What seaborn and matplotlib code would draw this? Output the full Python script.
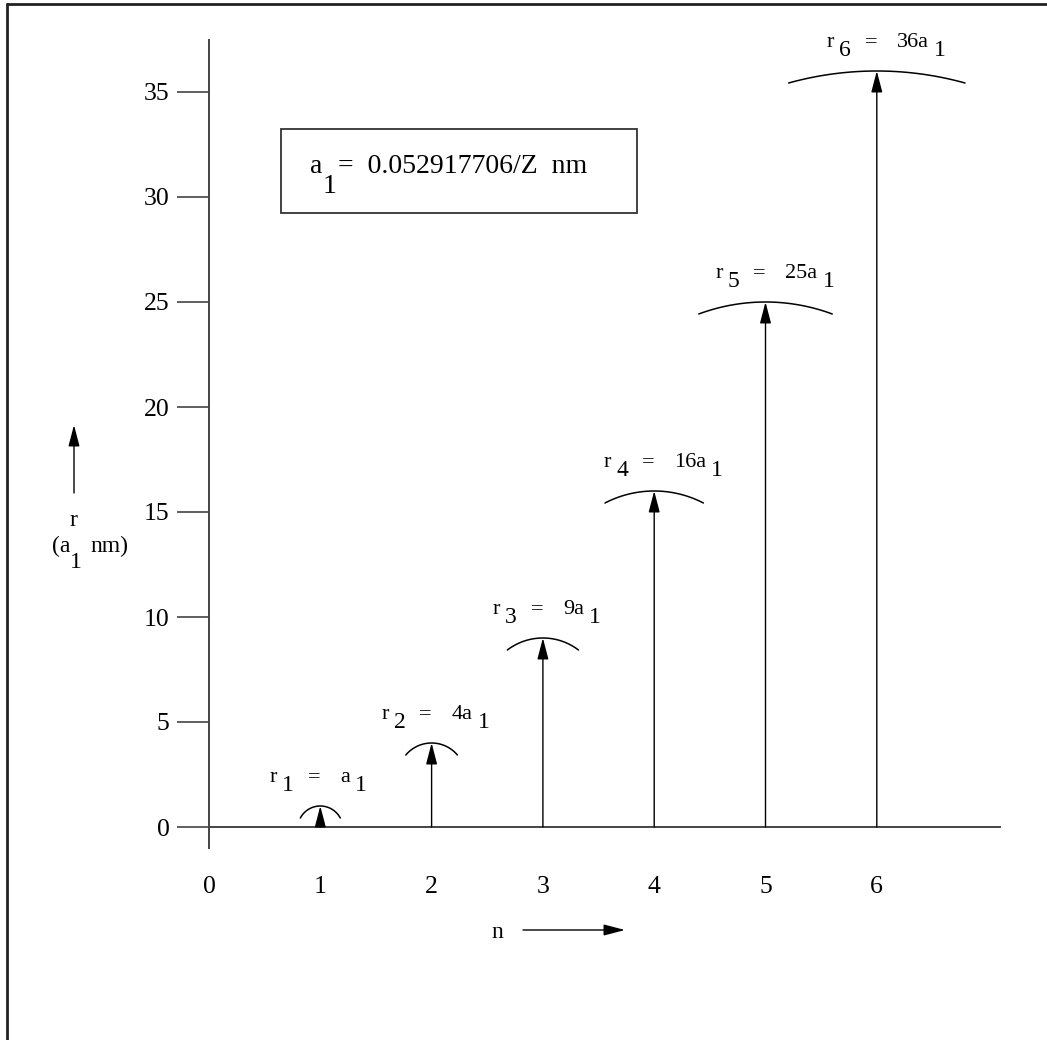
import numpy as np
import matplotlib
matplotlib.use("Agg")
import matplotlib.pyplot as plt
from matplotlib.lines import Line2D
from matplotlib.patches import Rectangle
import seaborn as sns

# Bohr orbit radii r_n = n^2 a_1
n_values = [1, 2, 3, 4, 5, 6]
r_values = [1, 4, 9, 16, 25, 36]
x_ticks = [0, 1, 2, 3, 4, 5, 6]
y_ticks = [0, 5, 10, 15, 20, 25, 30, 35]
box_text = "=  0.052917706/Z  nm"

W, H = 1047, 1040
PX_X = 111.3   # pixels per unit n
PX_Y = 21.0    # pixels per unit r

sns.set_theme(style="white")
plt.rcParams["font.family"] = ["Liberation Serif", "DejaVu Serif"]
plt.rcParams["text.color"] = "black"

fig = plt.figure(figsize=(W / 100, H / 100), dpi=100)
fig.patch.set_facecolor("white")
ax = fig.add_axes([209 / W, 1 - 848 / H, (1000 - 209) / W, (848 - 40) / H])
ax.set_facecolor("none")
ax.set_xlim(0, (1000 - 209) / PX_X)
ax.set_ylim(-(848 - 827) / PX_Y, (827 - 40) / PX_Y)

sns.despine(ax=ax, top=True, right=True)
ax.spines["bottom"].set_position(("data", 0))
for s in ("left", "bottom"):
    ax.spines[s].set_color("#444444")
    ax.spines[s].set_linewidth(1.4)

ax.set_xticks(x_ticks)
ax.set_yticks(y_ticks)
ax.tick_params(axis="y", length=23, width=1.2, color="#444444", pad=5.5,
               labelsize=18.5, labelcolor="black", direction="out", left=True)
ax.tick_params(axis="x", length=0, pad=35, labelsize=18.5, labelcolor="black")


def put(txt, n, r, dx, dy, size, ha):
    # offsets in pixels relative to the arrow tip
    return ax.annotate(txt, xy=(n, r), xytext=(dx * 0.72, dy * 0.72),
                       textcoords="offset points", ha=ha, va="baseline",
                       fontsize=size)


arrow_style = "-|>,head_length=1.3,head_width=0.34"
for n, r in zip(n_values, r_values):
    ax.annotate("", xy=(n, r), xytext=(n, 0),
                arrowprops=dict(arrowstyle=arrow_style, mutation_scale=10,
                                color="black", lw=1.0, shrinkA=0, shrinkB=0))
    # orbit arc through the arrow tip
    w = 18 + 1.95 * r
    s = 12.0
    R = (w ** 2 + s ** 2) / (2 * s)
    th = np.arcsin(w / R)
    phi = np.linspace(-th, th, 80)
    ax.plot(n + R * np.sin(phi) / PX_X, r - R * (1 - np.cos(phi)) / PX_Y,
            color="black", lw=1.1)

    coef = "a" if r == 1 else f"{r}a"
    B, cx = 24, -6
    put("r", n, r, cx - 37, B, 16, "right")
    put(str(n), n, r, cx - 32, B - 9, 17, "left")
    put("=", n, r, cx, B, 16, "center")
    ct = put(coef, n, r, cx + 26, B, 16, "left")
    ax.annotate("1", xy=(1, 0), xycoords=ct, xytext=(3.6, -6.5),
                textcoords="offset points", ha="left", va="bottom", fontsize=17)


def fp(x, y):
    return (x / W, 1 - y / H)


# y-axis label
fig.text(*fp(73, 526), "r", ha="center", va="baseline", fontsize=17)
fig.text(*fp(70, 552), "(a", ha="right", va="baseline", fontsize=17)
fig.text(*fp(70, 568), "1", ha="left", va="baseline", fontsize=17)
fig.text(*fp(90, 552), "nm)", ha="left", va="baseline", fontsize=17)
ax.annotate("", xy=fp(74, 425), xytext=fp(74, 493), xycoords="figure fraction",
            textcoords="figure fraction",
            arrowprops=dict(arrowstyle=arrow_style, mutation_scale=10,
                            color="black", lw=1.0, shrinkA=0, shrinkB=0))

# x-axis label
fig.text(*fp(497, 938), "n", ha="center", va="baseline", fontsize=17)
ax.annotate("", xy=fp(625, 930), xytext=fp(523, 930), xycoords="figure fraction",
            textcoords="figure fraction",
            arrowprops=dict(arrowstyle=arrow_style, mutation_scale=10,
                            color="black", lw=1.0, shrinkA=0, shrinkB=0))

# constant box
fig.add_artist(Rectangle(fp(281, 213), (637 - 281) / W, (213 - 129) / H,
                         transform=fig.transFigure, fill=False,
                         edgecolor="#333333", lw=1.3))
fig.text(*fp(310, 173), "a", ha="left", va="baseline", fontsize=20)
fig.text(*fp(323, 193), "1", ha="left", va="baseline", fontsize=20)
fig.text(*fp(338, 173), box_text, ha="left", va="baseline", fontsize=20)

# outer frame (top and left edges)
fig.add_artist(Line2D([7 / W, 7 / W], [0, 1 - 4 / H], transform=fig.transFigure,
                      color="#222222", lw=2))
fig.add_artist(Line2D([7 / W, 1], [1 - 4 / H, 1 - 4 / H], transform=fig.transFigure,
                      color="#222222", lw=2))

fig.savefig("out.png", dpi=100)
